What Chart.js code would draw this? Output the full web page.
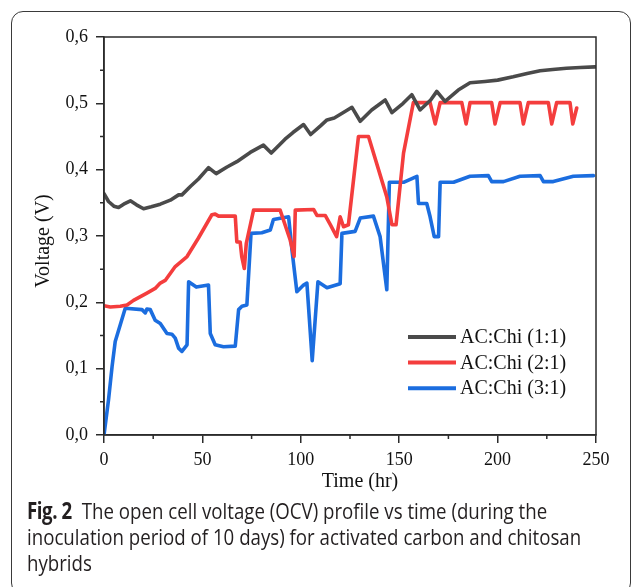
<!DOCTYPE html>
<html>
<head>
<meta charset="utf-8">
<script src="https://cdn.jsdelivr.net/npm/chart.js@4.4.0/dist/chart.umd.min.js"></script>
<style>
    html, body { margin: 0; padding: 0; background: #fff; width: 632px; height: 587px; overflow: hidden; }
    #frame {
        position: absolute; left: 11px; top: 11px; width: 620px; height: 584px;
        box-sizing: border-box; border: 1.5px solid #3a3a3a; border-radius: 12px;
    }
    #chart { position: absolute; left: 0; top: 0; }
    #caption {
        position: absolute; left: 27px; top: 498px; width: 690px;
        font-family: "Open Sans", sans-serif; font-size: 22.5px; line-height: 25.8px;
        color: #231f20; transform: scaleX(0.83); transform-origin: 0 0;
    }
    #caption b { margin-right: 6px; letter-spacing: -0.5px; }
</style>
</head>
<body>
<div id="frame"></div>
<canvas id="chart" width="632" height="500"></canvas>
<div id="caption"><b>Fig. 2</b> The open cell voltage (OCV) profile vs time (during the inoculation period of 10 days) for activated carbon and chitosan hybrids</div>
<script>
// Series labels and colours
const seriesLabels = ['AC:Chi (1:1)', 'AC:Chi (2:1)', 'AC:Chi (3:1)'];
const seriesColors = ['#4a4a4a', '#f43d3d', '#1b6ddf'];

// AC:Chi (1:1)
const time11 = [0, 2.3, 5, 7.4, 10, 13.4, 16.5, 20.1, 24, 28.6, 33.7, 37.9, 39.6, 44, 48, 53.1, 57, 62.5, 67.5, 74.3,
    81, 85, 92, 96, 101.4, 105, 110, 113.3, 117, 121, 126, 130.2, 136, 142.9, 146.3, 152, 156.4, 160.6, 166, 169.1,
    173.3, 180, 186, 193.6, 200, 207.9, 215, 221.6, 228, 235, 242, 249.5];
const volt11 = [0.364, 0.352, 0.345, 0.343, 0.348, 0.353, 0.347, 0.341, 0.344, 0.348, 0.354, 0.362, 0.362, 0.375, 0.386, 0.403, 0.394, 0.404, 0.412, 0.426,
    0.437, 0.425, 0.446, 0.456, 0.468, 0.453, 0.466, 0.475, 0.478, 0.485, 0.494, 0.473, 0.49, 0.505, 0.486, 0.5, 0.513, 0.49, 0.505, 0.518,
    0.503, 0.52, 0.531, 0.533, 0.535, 0.54, 0.545, 0.549, 0.551, 0.553, 0.554, 0.555];

// AC:Chi (2:1)
const time21 = [0, 3.2, 8.3, 11.7, 15, 21.8, 26, 28.6, 31.1, 36.2, 42.2, 48, 54.8, 56.5, 58.2, 66.7, 67.5, 69.2, 70, 71.3,
    72.3, 76, 89.5, 94.6, 96.6, 97.2, 106.5, 108.2, 112.4, 115, 118.2, 120, 121.7, 124.2, 129.3, 134.4, 143.7, 146.3, 148.4, 152.2,
    157.2, 165.7, 168.3, 170.8, 181.8, 184, 186, 197, 198.7, 201.3, 211.4, 213.1, 215.6, 225.8, 227.5, 230, 236.8, 238.2, 240.2];
const volt21 = [0.195, 0.193, 0.194, 0.196, 0.203, 0.214, 0.221, 0.229, 0.233, 0.254, 0.269, 0.297, 0.332, 0.333, 0.33, 0.33, 0.291, 0.291, 0.269, 0.251,
    0.289, 0.339, 0.339, 0.294, 0.269, 0.339, 0.34, 0.331, 0.331, 0.317, 0.299, 0.329, 0.314, 0.317, 0.45, 0.45, 0.359, 0.317, 0.317, 0.425,
    0.501, 0.501, 0.469, 0.501, 0.501, 0.469, 0.501, 0.501, 0.469, 0.501, 0.501, 0.469, 0.501, 0.501, 0.469, 0.501, 0.501, 0.469, 0.493];

// AC:Chi (3:1)
const time31 = [0, 2.3, 4.1, 5.7, 10.8, 19.3, 21, 21.8, 23.5, 26, 28.6, 32, 34.5, 36.2, 37.9, 39.6, 42.2, 43, 46.9, 53.1,
    54, 56.5, 60.7, 66.7, 68.4, 70.1, 72.6, 74.7, 80.2, 84.5, 86.1, 93.8, 95.5, 98, 101.4, 103.1, 105.8, 108.7, 113.3, 120,
    120.9, 127.6, 130.2, 136.9, 140.3, 143.7, 145, 152.2, 159, 159.8, 164, 165.7, 167.8, 170, 170.8, 177.6, 186, 195.3, 197, 203,
    211.4, 221.6, 223.3, 228.3, 238.5, 248.7];
const volt31 = [0, 0.053, 0.103, 0.141, 0.191, 0.189, 0.184, 0.19, 0.189, 0.173, 0.168, 0.153, 0.152, 0.146, 0.131, 0.126, 0.136, 0.231, 0.223, 0.226,
    0.153, 0.136, 0.133, 0.134, 0.189, 0.194, 0.196, 0.304, 0.305, 0.309, 0.325, 0.329, 0.279, 0.216, 0.226, 0.229, 0.112, 0.231, 0.222, 0.228,
    0.304, 0.307, 0.327, 0.33, 0.299, 0.219, 0.381, 0.381, 0.39, 0.349, 0.349, 0.329, 0.299, 0.299, 0.381, 0.381, 0.39, 0.391, 0.382, 0.382,
    0.39, 0.391, 0.382, 0.382, 0.39, 0.391];

// Minor tick positions
const xMinorTicks = [25, 75, 125, 175, 225];
const yMinorTicks = [0.05, 0.15, 0.25, 0.35, 0.45, 0.55];

const axisColor = '#2b2b2b';
const serif = '"Liberation Serif", "Times New Roman", serif';

function toPoints(xs, ys) {
    return xs.map((t, i) => ({ x: t, y: ys[i] }));
}

// Frame, minor ticks, axis titles and the legend inside the plot
const decorPlugin = {
    id: 'decor',
    afterDraw(chart) {
        const { ctx, chartArea: a, scales: { x, y } } = chart;
        ctx.save();
        ctx.strokeStyle = axisColor;
        ctx.lineWidth = 1.5;
        ctx.strokeRect(a.left, a.top, a.right - a.left, a.bottom - a.top);

        ctx.beginPath();
        xMinorTicks.forEach((v) => {
            const px = x.getPixelForValue(v);
            ctx.moveTo(px, a.bottom);
            ctx.lineTo(px, a.bottom + 4);
        });
        yMinorTicks.forEach((v) => {
            const py = y.getPixelForValue(v);
            ctx.moveTo(a.left, py);
            ctx.lineTo(a.left - 4, py);
        });
        ctx.stroke();

        ctx.fillStyle = '#111';
        ctx.font = '20px ' + serif;
        ctx.textAlign = 'center';
        ctx.textBaseline = 'middle';
        ctx.fillText('Time (hr)', 360, 482);
        ctx.save();
        ctx.translate(44, 241);
        ctx.rotate(-Math.PI / 2);
        ctx.fillText('Voltage (V)', 0, 0);
        ctx.restore();

        // legend
        ctx.textAlign = 'left';
        ctx.lineWidth = 4;
        chart.data.datasets.forEach((ds, i) => {
            const ly = 337 + i * 25.6;
            ctx.strokeStyle = ds.borderColor;
            ctx.beginPath();
            ctx.moveTo(408, ly);
            ctx.lineTo(456, ly);
            ctx.stroke();
            ctx.fillStyle = '#111';
            ctx.fillText(ds.label, 460, ly + 1);
        });
        ctx.restore();
    }
};

const datasets = [toPoints(time11, volt11), toPoints(time21, volt21), toPoints(time31, volt31)].map((pts, i) => ({
    label: seriesLabels[i],
    data: pts,
    borderColor: seriesColors[i],
    borderWidth: 3.6,
    pointRadius: 0,
    tension: 0,
    fill: false,
    borderJoinStyle: 'round',
    borderCapStyle: 'round',
}));

new Chart(document.getElementById('chart'), {
    type: 'line',
    data: { datasets },
    options: {
        responsive: false,
        animation: false,
        layout: { padding: { top: 37, right: 36, left: 0, bottom: 0 } },
        plugins: { legend: { display: false }, tooltip: { enabled: false } },
        scales: {
            x: {
                type: 'linear',
                min: 0,
                max: 250,
                afterFit: (s) => { s.height = 65; },
                ticks: { stepSize: 50, padding: 6, color: '#111', font: { family: serif, size: 18 } },
                grid: { drawOnChartArea: false, drawTicks: true, tickLength: 8, color: axisColor, lineWidth: 1.5 },
                border: { display: true, color: axisColor, width: 1.5 },
            },
            y: {
                min: 0,
                max: 0.6,
                afterFit: (s) => { s.width = 104; },
                ticks: {
                    stepSize: 0.1,
                    padding: 8,
                    color: '#111',
                    font: { family: serif, size: 18 },
                    callback: (v) => v.toFixed(1).replace('.', ','),
                },
                grid: { drawOnChartArea: false, drawTicks: true, tickLength: 8, color: axisColor, lineWidth: 1.5 },
                border: { display: true, color: axisColor, width: 1.5 },
            },
        },
    },
    plugins: [decorPlugin],
});
</script>
</body>
</html>
